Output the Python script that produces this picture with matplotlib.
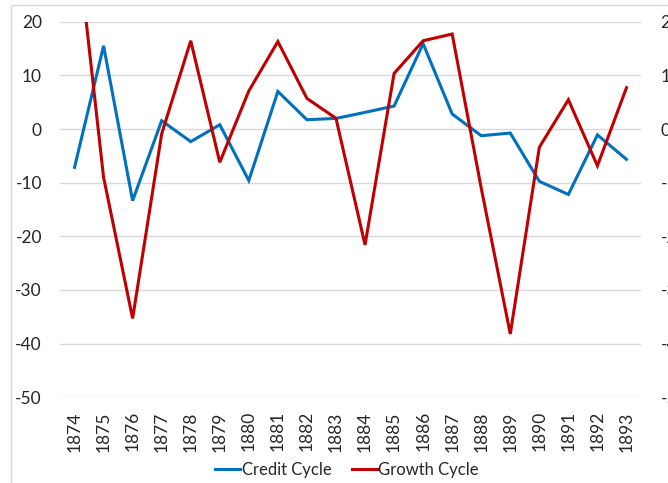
import matplotlib
matplotlib.use("Agg")
import matplotlib.pyplot as plt
from matplotlib.patches import Rectangle

years = [str(y) for y in range(1874, 1894)]
credit_cycle = [-7.15, 15.5, -13.35, 1.55, -2.35, 0.8, -9.6, 7.0, 1.73, 1.98,
                3.1, 4.28, 15.9, 2.8, -1.25, -0.75, -9.75, -12.2, -1.1, -5.65]
growth_cycle = [39.5, -9.0, -35.3, -0.9, 16.45, -6.2, 7.1, 16.3, 5.7, 2.0,
                -21.6, 10.35, 16.45, 17.7, -11.0, -38.2, -3.4, 5.45, -6.85, 7.7]
y_ticks = [20, 10, 0, -10, -20, -30, -40, -50]

plt.rcParams['font.family'] = ['Lato', 'DejaVu Sans']
W, H = 668, 483
fig = plt.figure(figsize=(W / 100, H / 100), dpi=100)

# chart border (partially cropped)
fig.patches.append(Rectangle((10.7 / W, -0.5), 2.0, 1 - 4.7 / H + 0.5,
                             transform=fig.transFigure, fill=False,
                             edgecolor='#D9D9D9', linewidth=1.0))

left, right = 60 / W, 641 / W
top, bottom = 1 - 21.7 / H, 1 - 397.3 / H
ax = fig.add_axes([left, bottom, right - left, top - bottom])
x = list(range(len(years)))
ax.plot(x, credit_cycle, color='#0070C0', linewidth=2.2, label='Credit Cycle',
        solid_joinstyle='miter')
ax.plot(x, growth_cycle, color='#C00000', linewidth=2.2, label='Growth Cycle',
        solid_joinstyle='miter')
ax.set_xlim(-0.5, len(years) - 0.5)
ax.set_ylim(-50, 20)
ax.set_yticks(y_ticks)
ax.set_yticklabels([str(v) for v in y_ticks])
ax.set_xticks(x)
ax.set_xticklabels(years, rotation=90)
ax.grid(axis='y', color='#D9D9D9', linewidth=1.0)
ax.set_axisbelow(True)
for s in ax.spines.values():
    s.set_visible(False)
ax.tick_params(axis='y', length=0, pad=13, labelsize=12.5, labelcolor='#262626')
ax.tick_params(axis='x', length=0, pad=10, labelsize=12.5, labelcolor='#262626')

ax2 = ax.twinx()
ax2.set_ylim(-50, 20)
ax2.set_yticks(y_ticks)
ax2.set_yticklabels([str(v) for v in y_ticks])
for s in ax2.spines.values():
    s.set_visible(False)
ax2.tick_params(axis='y', length=0, pad=14, labelsize=12.5, labelcolor='#262626')

leg = fig.legend(loc='center', bbox_to_anchor=(347 / W, 1 - 470 / H), ncol=2,
                 frameon=False, fontsize=12, handlelength=1.5, handletextpad=0.1,
                 columnspacing=1.2)
for t in leg.get_texts():
    t.set_color('#262626')

fig.savefig('out.png', dpi=100)
